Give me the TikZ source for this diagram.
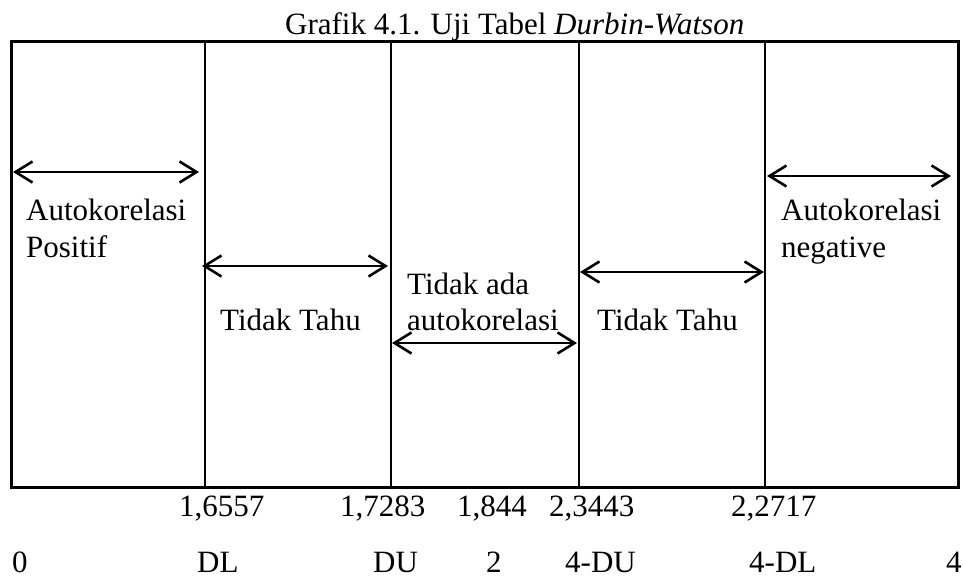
\documentclass[tikz,border=0pt]{standalone}
\usepackage{fontspec}
\setmainfont{Liberation Serif}
\usetikzlibrary{arrows.meta}
\begin{document}
\begin{tikzpicture}[x=1pt,y=-1pt,
  lbl/.style={anchor=base west,inner sep=0pt,font=\fontsize{31}{37}\selectfont},
  frame/.style={line width=3pt},
  sep/.style={line width=2pt},
  span/.style={line width=2.6pt,{Straight Barb[length=17pt,width=21pt]}-{Straight Barb[length=17pt,width=21pt]}}]
\useasboundingbox (0,0) rectangle (963,580);
% title
\node[lbl] (title) at (285,35) {Grafik 4.1. Uji Tabel \textit{Durbin-Watson}};
% frame
\coordinate (tl) at (11,42);
\coordinate (br) at (958,487);
\draw[frame] (tl) rectangle (br);
% separators
\foreach \x/\n in {205/s1,391/s2,579/s3,765/s4}{
  \coordinate (\n t) at (\x,42);
  \coordinate (\n b) at (\x,487);
  \draw[sep] (\n t) -- (\n b);
}
% arrows
\coordinate (a1l) at (13,172);  \coordinate (a1r) at (199,172);
\coordinate (a2l) at (202,266); \coordinate (a2r) at (388,266);
\coordinate (a3l) at (392,343); \coordinate (a3r) at (577,343);
\coordinate (a4l) at (580,272); \coordinate (a4r) at (764,272);
\coordinate (a5l) at (767,176); \coordinate (a5r) at (951,176);
\draw[span] (a1l) -- (a1r);
\draw[span] (a2l) -- (a2r);
\draw[span] (a3l) -- (a3r);
\draw[span] (a4l) -- (a4r);
\draw[span] (a5l) -- (a5r);
% region texts
\node[lbl] (t1a) at (26,220) {Autokorelasi};
\node[lbl] (t1b) at (26,257) {Positif};
\node[lbl] (t2) at (220,330) {Tidak Tahu};
\node[lbl] (t3a) at (407,294) {Tidak ada};
\node[lbl] (t3b) at (407,330) {autokorelasi};
\node[lbl] (t4) at (597,330) {Tidak Tahu};
\node[lbl] (t5a) at (781,220) {Autokorelasi};
\node[lbl] (t5b) at (781,257) {negative};
% values
\node[lbl] (v1) at (179,516) {1,6557};
\node[lbl] (v2) at (340,516) {1,7283};
\node[lbl] (v3) at (457,516) {1,844};
\node[lbl] (v4) at (549,516) {2,3443};
\node[lbl] (v5) at (731,516) {2,2717};
% axis labels
\node[lbl] (l0) at (12,572) {0};
\node[lbl] (l1) at (197,572) {DL};
\node[lbl] (l2) at (373,572) {DU};
\node[lbl] (l3) at (486,572) {2};
\node[lbl] (l4) at (565,572) {4-DU};
\node[lbl] (l5) at (749,572) {4-DL};
\node[lbl] (l6) at (946,572) {4};
\end{tikzpicture}
\end{document}
